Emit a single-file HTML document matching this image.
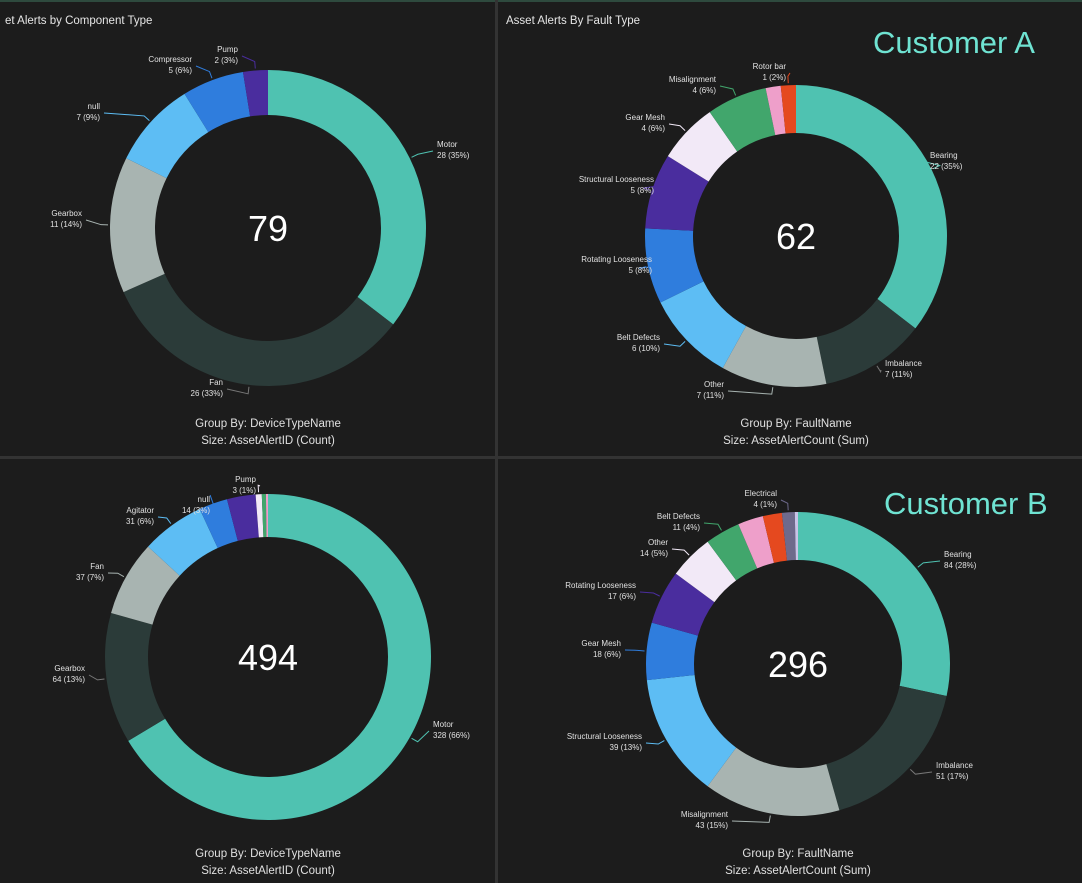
<!DOCTYPE html>
<html><head><meta charset="utf-8"><style>
html,body{margin:0;padding:0;background:#1c1c1c;}
svg{display:block;font-family:"Liberation Sans",sans-serif;}
</style></head><body>
<svg id="s" width="1082" height="883" viewBox="0 0 1082 883">
<rect x="0" y="0" width="1082" height="883" fill="#1c1c1c"/>
<rect x="0" y="0" width="1082" height="2" fill="#2e4a3e"/>
<rect x="495" y="0" width="3" height="883" fill="#333"/>
<rect x="0" y="456" width="1082" height="3" fill="#333"/>
<text x="5" y="24" fill="#e6e6e6" font-size="11.5">et Alerts by Component Type</text>
<text x="506" y="24" fill="#e6e6e6" font-size="11.5">Asset Alerts By Fault Type</text>
<text x="873" y="53" fill="#6fe3d2" font-size="31">Customer A</text>
<text x="884" y="514" fill="#6fe3d2" font-size="31">Customer B</text>
<g id="charts"></g>
</svg>
<script>
// Chart A1
const a1Labels=["Motor","Fan","Gearbox","null","Compressor","Pump"];
const a1Values=[28,26,11,7,5,2];
// Chart A2
const a2Labels=["Bearing","Imbalance","Other","Belt Defects","Rotating Looseness","Structural Looseness","Gear Mesh","Misalignment","","Rotor bar"];
const a2Values=[22,7,7,6,5,5,4,4,1,1];
// Chart B1
const b1Labels=["Motor","Gearbox","Fan","Agitator","null","","Pump","",""];
const b1Values=[328,64,37,31,14,14,3,2,1];
// Chart B2
const b2Labels=["Bearing","Imbalance","Misalignment","Structural Looseness","Gear Mesh","Rotating Looseness","Other","Belt Defects","","","Electrical",""];
const b2Values=[84,51,43,39,18,17,14,11,8,6,4,1];

const C={teal:"#4fc2b1",dark:"#2b3b39",gray:"#a8b4b1",lblue:"#5dbdf4",blue:"#2f7ddd",purple:"#4a2d9e",white:"#f2e9f7",green:"#41a66c",pink:"#ee9fca",red:"#e5491f",slate:"#6e6a8c",lav:"#c9c3e8"};
const charts=[
 {name:"component-a",labels:a1Labels,values:a1Values,cx:268,cy:228,ro:158,ri:113,
  colors:[C.teal,C.dark,C.gray,C.lblue,C.blue,C.purple],
  lab:[[437,147,"s"],[223,385,"e"],[82,216,"e"],[100,109,"e"],[192,62,"e"],[238,52,"e"]],
  g1:"Group By: DeviceTypeName",g2:"Size: AssetAlertID (Count)"},
 {name:"fault-a",labels:a2Labels,values:a2Values,cx:796,cy:236,ro:151,ri:103,
  colors:[C.teal,C.dark,C.gray,C.lblue,C.blue,C.purple,C.white,C.green,C.pink,C.red],
  lab:[[930,158,"s"],[885,366,"s"],[724,387,"e"],[660,340,"e"],[652,262,"e"],[654,182,"e"],[665,120,"e"],[716,82,"e"],null,[786,69,"e"]],
  g1:"Group By: FaultName",g2:"Size: AssetAlertCount (Sum)"},
 {name:"component-b",labels:b1Labels,values:b1Values,cx:268,cy:657,ro:163,ri:120,
  colors:[C.teal,C.dark,C.gray,C.lblue,C.blue,C.purple,C.white,C.green,C.pink],
  lab:[[433,727,"s"],[85,671,"e"],[104,569,"e"],[154,513,"e"],[210,502,"e"],null,[256,482,"e"],null,null],
  g1:"Group By: DeviceTypeName",g2:"Size: AssetAlertID (Count)"},
 {name:"fault-b",labels:b2Labels,values:b2Values,cx:798,cy:664,ro:152,ri:104,
  colors:[C.teal,C.dark,C.gray,C.lblue,C.blue,C.purple,C.white,C.green,C.pink,C.red,C.slate,C.lav],
  lab:[[944,557,"s"],[936,768,"s"],[728,817,"e"],[642,739,"e"],[621,646,"e"],[636,588,"e"],[668,545,"e"],[700,519,"e"],null,null,[777,496,"e"],null],
  g1:"Group By: FaultName",g2:"Size: AssetAlertCount (Sum)"}
];
const NS="http://www.w3.org/2000/svg";
const root=document.getElementById("charts");
function mk(tag,attrs,parent){const e=document.createElementNS(NS,tag);for(const k in attrs)e.setAttribute(k,attrs[k]);(parent||root).appendChild(e);return e;}
function pt(cx,cy,r,a){return [cx+r*Math.sin(a),cy-r*Math.cos(a)];}
charts.forEach(ch=>{
 const total=ch.values.reduce((a,b)=>a+b,0);
 const g=mk("g",{});
 
 
 let acc=0;
 ch.values.forEach((v,i)=>{
  const a0=acc/total*2*Math.PI;acc+=v;const a1=acc/total*2*Math.PI;
  const large=(a1-a0)>Math.PI?1:0;
  const p0=pt(ch.cx,ch.cy,ch.ro,a0),p1=pt(ch.cx,ch.cy,ch.ro,a1),q1=pt(ch.cx,ch.cy,ch.ri,a1),q0=pt(ch.cx,ch.cy,ch.ri,a0);
  const d=`M${p0[0]},${p0[1]}A${ch.ro},${ch.ro} 0 ${large} 1 ${p1[0]},${p1[1]}L${q1[0]},${q1[1]}A${ch.ri},${ch.ri} 0 ${large} 0 ${q0[0]},${q0[1]}Z`;
  const s=mk("path",{d:d,fill:ch.colors[i]},g);
  
  
  const L=ch.lab[i];
  if(L&&ch.labels[i]){
   const am=(a0+a1)/2;
   const e1=pt(ch.cx,ch.cy,ch.ro+2,am),e2=pt(ch.cx,ch.cy,ch.ro+9,am);
   const lx=L[2]==="e"?L[0]+4:L[0]-4;
   const ln=mk("polyline",{points:`${e1[0]},${e1[1]} ${e2[0]},${e2[1]} ${lx},${L[1]+4}`,fill:"none",stroke:ch.colors[i]==C.dark?"#777":ch.colors[i],"stroke-width":1},g);
   
   
   const pct=Math.round(v/total*100);
   const anchor=L[2]==="e"?"end":"start";
   const t1=mk("text",{x:L[0],y:L[1],fill:"#e0e0e0","font-size":8,"text-anchor":anchor},g);
   t1.textContent=ch.labels[i];
   
   
   const t2=mk("text",{x:L[0],y:L[1]+11,fill:"#e0e0e0","font-size":8,"text-anchor":anchor},g);
   t2.textContent=v+" ("+pct+"%)";
   
   
  }
 });
 const ct=mk("text",{x:ch.cx,y:ch.cy+13,fill:"#ffffff","font-size":36,"text-anchor":"middle"},g);
 ct.textContent=total;
 
 
 const gy=ch.cy<400?427:857;
 const gt1=mk("text",{x:ch.cx,y:gy,fill:"#e0e0e0","font-size":11.5,"text-anchor":"middle"},g);
 gt1.textContent=ch.g1;
 
 
 const gt2=mk("text",{x:ch.cx,y:gy+17,fill:"#e0e0e0","font-size":11.5,"text-anchor":"middle"},g);
 gt2.textContent=ch.g2;
 
 
});
</script>
</body></html>
